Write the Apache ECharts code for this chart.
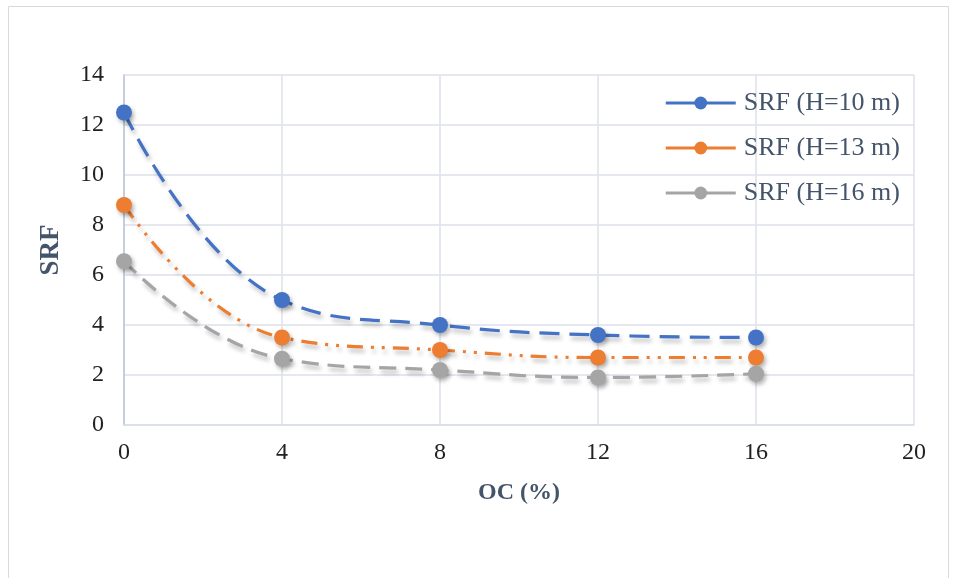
<!DOCTYPE html>
<html>
<head>
<meta charset="utf-8">
<script src="https://cdn.jsdelivr.net/npm/echarts@6/dist/echarts.min.js"></script>
<style>html,body{margin:0;padding:0;background:#fff}#c{width:955px;height:578px}</style>
</head>
<body>
<div id="c"></div>
<script>
const xValues = [0, 4, 8, 12, 16];
const srfH10 = [12.5, 5.0, 4.0, 3.6, 3.5];
const srfH13 = [8.8, 3.5, 3.0, 2.7, 2.7];
const srfH16 = [6.55, 2.65, 2.2, 1.9, 2.05];
const seriesNames = ['SRF (H=10 m)', 'SRF (H=13 m)', 'SRF (H=16 m)'];
const xTicks = [0, 4, 8, 12, 16, 20];
const yTicks = [0, 2, 4, 6, 8, 10, 12, 14];

const pairs = arr => xValues.map((x, i) => [x, arr[i]]);
const font = '"Liberation Serif", "Times New Roman", serif';

function mk(name, data, color, dash) {
  return {
    name, type: 'line', data: pairs(data), smooth: 0.45,
    symbol: 'circle', symbolSize: 16,
    itemStyle: { color: color, shadowColor: 'rgba(0,0,0,0.3)', shadowBlur: 4, shadowOffsetX: 2, shadowOffsetY: 3 },
    lineStyle: { color: color, width: 3.2, type: dash, shadowColor: 'rgba(0,0,0,0.25)', shadowBlur: 4, shadowOffsetX: 2, shadowOffsetY: 4 },
    emphasis: { disabled: true }
  };
}

const chart = echarts.init(document.getElementById('c'), null, { renderer: 'canvas' });
chart.setOption({
  animation: false,
  backgroundColor: '#fff',
  graphic: [{ type: 'rect', shape: { x: 8.5, y: 6.5, width: 940, height: 600 }, style: { fill: 'none', stroke: '#d9d9d9', lineWidth: 1 }, silent: true }],
  grid: { left: 124, right: 41, top: 75, bottom: 153, containLabel: false },
  legend: {
    orient: 'vertical', right: 50, top: 84, itemWidth: 70, itemHeight: 16, itemGap: 17,
    lineStyle: { type: 'solid', width: 3 },
    textStyle: { fontFamily: font, fontSize: 26, lineHeight: 28, color: '#44546a', padding: [0, 0, 0, 3] },
    data: seriesNames
  },
  xAxis: {
    type: 'value', min: 0, max: 20, interval: 4,
    name: 'OC (%)', nameLocation: 'middle', nameGap: 56,
    nameTextStyle: { fontFamily: font, fontSize: 24, fontWeight: 'bold', color: '#44546a' },
    axisLine: { show: true, lineStyle: { color: '#d9dee6', width: 1.5 } },
    axisTick: { show: false },
    axisLabel: { fontFamily: font, fontSize: 24, color: '#222', margin: 16 },
    splitLine: { show: true, lineStyle: { color: '#dde2ea', width: 1.5 } }
  },
  yAxis: {
    type: 'value', min: 0, max: 14, interval: 2,
    name: 'SRF', nameLocation: 'middle', nameGap: 59, nameRotate: 90,
    nameTextStyle: { fontFamily: font, fontSize: 27, fontWeight: 'bold', color: '#44546a' },
    axisLine: { show: true, lineStyle: { color: '#b8c4d8', width: 1.5 } },
    axisTick: { show: false },
    axisLabel: { fontFamily: font, fontSize: 24, color: '#222', margin: 20 },
    splitLine: { show: true, lineStyle: { color: '#dde2ea', width: 1.5 } }
  },
  series: [
    mk(seriesNames[0], srfH10, '#4472c4', [20, 10]),
    mk(seriesNames[1], srfH13, '#ed7d31', [16, 8, 3, 8, 3, 8]),
    mk(seriesNames[2], srfH16, '#a5a5a5', [17, 9])
  ]
});
</script>
</body>
</html>
